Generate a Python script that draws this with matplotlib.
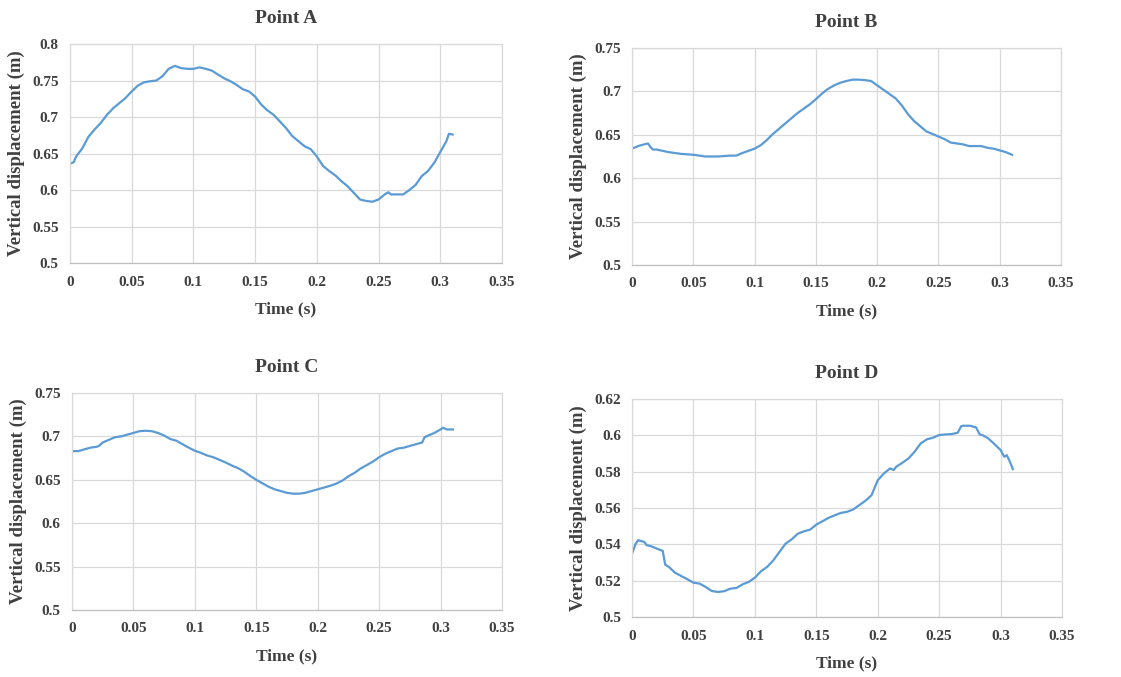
import matplotlib

matplotlib.use("Agg")
import matplotlib.pyplot as plt  # noqa: E402
from matplotlib.ticker import FuncFormatter, MultipleLocator  # noqa: E402

# --- Data ---------------------------------------------------------------

T_A = [0, 0.003, 0.005, 0.01, 0.015, 0.02, 0.025, 0.03, 0.035, 0.04, 0.045,
       0.05, 0.055, 0.06, 0.065, 0.07, 0.075, 0.08, 0.085, 0.09, 0.095, 0.1,
       0.105, 0.11, 0.115, 0.12, 0.125, 0.13, 0.135, 0.14, 0.145, 0.15, 0.155,
       0.16, 0.165, 0.17, 0.175, 0.18, 0.185, 0.19, 0.195, 0.2, 0.205, 0.21,
       0.215, 0.22, 0.225, 0.23, 0.235, 0.24, 0.245, 0.25, 0.255, 0.258, 0.26,
       0.265, 0.27, 0.275, 0.28, 0.285, 0.29, 0.295, 0.3, 0.305, 0.307, 0.31]
Y_A = [0.636, 0.638, 0.646, 0.657, 0.673, 0.683, 0.692, 0.703, 0.712, 0.719,
       0.726, 0.735, 0.743, 0.7475, 0.749, 0.750, 0.756, 0.766, 0.770, 0.767,
       0.766, 0.766, 0.768, 0.766, 0.7635, 0.758, 0.753, 0.749, 0.744, 0.738,
       0.735, 0.728, 0.717, 0.709, 0.703, 0.694, 0.685, 0.674, 0.667, 0.660,
       0.656, 0.646, 0.633, 0.626, 0.620, 0.612, 0.605, 0.596, 0.587, 0.585,
       0.584, 0.587, 0.594, 0.597, 0.594, 0.594, 0.594, 0.600, 0.607, 0.619,
       0.626, 0.637, 0.652, 0.667, 0.677, 0.676]

T_B = [0, 0.005, 0.01, 0.013, 0.015, 0.017, 0.02, 0.03, 0.04, 0.05, 0.06,
       0.065, 0.07, 0.08, 0.085, 0.09, 0.1, 0.105, 0.11, 0.115, 0.12, 0.125,
       0.13, 0.135, 0.14, 0.145, 0.15, 0.155, 0.16, 0.165, 0.17, 0.175, 0.18,
       0.185, 0.19, 0.195, 0.2, 0.205, 0.21, 0.215, 0.22, 0.225, 0.23, 0.235,
       0.24, 0.245, 0.25, 0.255, 0.26, 0.27, 0.275, 0.28, 0.285, 0.29, 0.295,
       0.3, 0.305, 0.31]
Y_B = [0.634, 0.637, 0.639, 0.640, 0.636, 0.633, 0.633, 0.630, 0.628, 0.627,
       0.625, 0.625, 0.625, 0.626, 0.626, 0.629, 0.634, 0.638, 0.644, 0.651,
       0.657, 0.663, 0.669, 0.675, 0.680, 0.685, 0.691, 0.6975, 0.703, 0.707,
       0.710, 0.712, 0.7135, 0.7135, 0.713, 0.712, 0.707, 0.702, 0.697, 0.692,
       0.684, 0.674, 0.666, 0.660, 0.654, 0.651, 0.648, 0.645, 0.641, 0.639,
       0.637, 0.637, 0.637, 0.635, 0.634, 0.632, 0.630, 0.627]

T_C = [0, 0.005, 0.01, 0.015, 0.02, 0.022, 0.025, 0.03, 0.035, 0.04, 0.045,
       0.05, 0.055, 0.06, 0.065, 0.07, 0.075, 0.08, 0.085, 0.09, 0.095, 0.1,
       0.105, 0.11, 0.115, 0.12, 0.125, 0.13, 0.135, 0.14, 0.145, 0.15, 0.155,
       0.16, 0.165, 0.17, 0.175, 0.18, 0.185, 0.19, 0.195, 0.2, 0.205, 0.21,
       0.215, 0.22, 0.225, 0.23, 0.235, 0.24, 0.245, 0.25, 0.255, 0.26, 0.265,
       0.27, 0.275, 0.28, 0.285, 0.287, 0.29, 0.295, 0.3, 0.302, 0.305, 0.31]
Y_C = [0.683, 0.683, 0.685, 0.687, 0.688, 0.689, 0.693, 0.696, 0.699, 0.700,
       0.702, 0.704, 0.706, 0.7065, 0.706, 0.704, 0.701, 0.697, 0.695, 0.691,
       0.687, 0.6835, 0.681, 0.678, 0.676, 0.673, 0.670, 0.6665, 0.6635,
       0.6595, 0.6545, 0.650, 0.646, 0.642, 0.639, 0.637, 0.635, 0.634, 0.634,
       0.635, 0.637, 0.639, 0.641, 0.643, 0.6455, 0.649, 0.654, 0.658, 0.663,
       0.667, 0.671, 0.676, 0.680, 0.683, 0.686, 0.687, 0.689, 0.691, 0.693,
       0.699, 0.701, 0.704, 0.708, 0.710, 0.708, 0.708]

T_D = [0, 0.003, 0.005, 0.01, 0.012, 0.015, 0.02, 0.025, 0.027, 0.03, 0.035,
       0.04, 0.045, 0.05, 0.055, 0.06, 0.065, 0.07, 0.075, 0.08, 0.085, 0.09,
       0.095, 0.1, 0.105, 0.11, 0.115, 0.12, 0.125, 0.13, 0.135, 0.14, 0.145,
       0.15, 0.155, 0.16, 0.165, 0.17, 0.175, 0.18, 0.185, 0.19, 0.195, 0.2,
       0.205, 0.21, 0.213, 0.215, 0.22, 0.225, 0.23, 0.235, 0.24, 0.245, 0.25,
       0.255, 0.26, 0.265, 0.268, 0.27, 0.275, 0.28, 0.283, 0.285, 0.29,
       0.295, 0.3, 0.303, 0.305, 0.307, 0.31]
Y_D = [0.5349, 0.5404, 0.5423, 0.5413, 0.5395, 0.5391, 0.5377, 0.5364,
       0.5288, 0.5276, 0.5244, 0.5226, 0.5208, 0.5189, 0.5184, 0.5165, 0.5143,
       0.5138, 0.5142, 0.5156, 0.5160, 0.5180, 0.5193, 0.5217, 0.5252, 0.5276,
       0.5312, 0.5358, 0.5404, 0.5428, 0.5459, 0.5472, 0.5481, 0.5509, 0.5527,
       0.5546, 0.5560, 0.5573, 0.5579, 0.5592, 0.5616, 0.5640, 0.5671, 0.5753,
       0.5790, 0.5818, 0.5809, 0.5827, 0.5849, 0.5873, 0.5910, 0.5956, 0.5978,
       0.5987, 0.6002, 0.6005, 0.6007, 0.6014, 0.6051, 0.6053, 0.6053, 0.6044,
       0.6005, 0.6002, 0.5983, 0.5952, 0.5919, 0.5882, 0.5891, 0.5864, 0.5814]

TITLES = ["Point A", "Point B", "Point C", "Point D"]
Y_LIMITS = [(0.5, 0.8, 0.05), (0.5, 0.75, 0.05), (0.5, 0.75, 0.05), (0.5, 0.62, 0.02)]

# --- Style -------------------------------------------------------------

LINE = "#5b9bd5"
TEXT = "#404040"
GRID = "#d9d9d9"

plt.rcParams["font.family"] = ["Liberation Serif", "DejaVu Serif"]
plt.rcParams["font.weight"] = "bold"

# axes rectangles in figure fractions (left, bottom, width, height)
POSITIONS = [
    (0.0624, 0.6115, 0.3854, 0.3235),
    (0.5638, 0.6086, 0.3827, 0.3205),
    (0.0642, 0.0990, 0.3836, 0.3205),
    (0.5638, 0.0886, 0.3836, 0.3220),
]


def fmt(v, _pos):
    return f"{v:g}"


def main() -> None:
    fig = plt.figure(figsize=(11.21, 6.77), dpi=100)
    series = [(T_A, Y_A), (T_B, Y_B), (T_C, Y_C), (T_D, Y_D)]

    for pos, (t, y), title, (ylo, yhi, ystep) in zip(POSITIONS, series, TITLES, Y_LIMITS):
        ax = fig.add_axes(pos)
        ax.plot(t, y, color=LINE, linewidth=1.6)

        ax.set_xlim(0, 0.35)
        ax.set_ylim(ylo, yhi)
        ax.xaxis.set_major_locator(MultipleLocator(0.05))
        ax.yaxis.set_major_locator(MultipleLocator(ystep))
        ax.xaxis.set_major_formatter(FuncFormatter(fmt))
        ax.yaxis.set_major_formatter(FuncFormatter(fmt))

        ax.grid(True, color=GRID, linewidth=0.9)
        ax.set_axisbelow(True)
        for side in ax.spines.values():
            side.set_color(GRID)
            side.set_linewidth(0.9)
        ax.spines["bottom"].set_color("#bfbfbf")

        ax.tick_params(length=0, labelsize=11, labelcolor=TEXT)
        ax.tick_params(axis="x", pad=9)
        ax.tick_params(axis="y", pad=8)

        ax.set_title(title, fontsize=14, fontweight="bold", color=TEXT, pad=15)
        ax.set_xlabel("Time (s)", fontsize=12.5, fontweight="bold", color=TEXT, labelpad=9)
        ax.set_ylabel("Vertical displacement (m)", fontsize=13.5, fontweight="bold",
                      color=TEXT, labelpad=5)

    fig.savefig("out.png", dpi=100, facecolor="white")


if __name__ == "__main__":
    main()
